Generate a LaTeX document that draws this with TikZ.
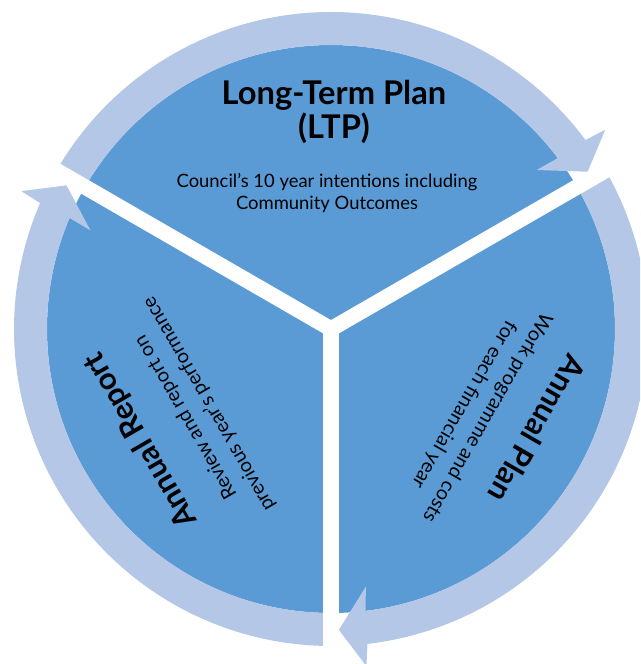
\documentclass[tikz,border=0pt]{standalone}
\usepackage{fontspec}
\setmainfont{Lato}
\definecolor{planblue}{HTML}{5B9BD5}
\definecolor{ringblue}{HTML}{B4C7E7}
\begin{document}
\begin{tikzpicture}[x=0.75pt,y=0.75pt,
  titletext/.style={font=\fontsize{24.5}{25}\selectfont\bfseries,align=center,inner sep=0pt},
  sidetitle/.style={font=\fontsize{23}{25}\selectfont\bfseries,align=center,inner sep=0pt},
  notetext/.style={font=\fontsize{13.8}{17}\selectfont,align=center,inner sep=0pt},
  sidenote/.style={font=\fontsize{14.8}{20}\selectfont,align=center,inner sep=0pt},
  gapline/.style={white,line width=11.6pt}]
\useasboundingbox (-331,-335) rectangle (309,329);
\clip (-331,-335) rectangle (309,329);
\coordinate (C) at (0,0);
\fill[planblue] (C) circle[radius=284];
\fill[ringblue] (150:317) arc[start angle=150,end angle=36.6,radius=317] -- (36:339) -- (31.5:301) -- (37.7:260) -- (37:284) arc[start angle=37,end angle=150,radius=284] -- cycle;
\fill[ringblue] (30:317) arc[start angle=30,end angle=-83.4,radius=317] -- (-84:339) -- (-88.5:301) -- (-82.3:260) -- (-83:284) arc[start angle=-83,end angle=30,radius=284] -- cycle;
\fill[ringblue] (270:317) arc[start angle=270,end angle=156.6,radius=317] -- (156:339) -- (151.5:301) -- (157.7:260) -- (157:284) arc[start angle=157,end angle=270,radius=284] -- cycle;
\draw[gapline] (C) -- (30:345);
\draw[gapline] (C) -- (150:345);
\draw[gapline] (C) -- (-90:345);

\node[titletext] (ltp) at (3,217) {Long-Term Plan\\(LTP)};
\node[notetext] (ltpnote) at (-4,136) {Council’s 10 year intentions including\\Community Outcomes};
\node[sidetitle,rotate=-120] (plan) at (206,-100) {Annual Plan};
\node[sidenote,rotate=-120] (plannote) at (144.5,-82) {Work programme and costs\\for each financial year};
\node[sidetitle,rotate=120] (report) at (-190,-111) {Annual Report};
\node[sidenote,rotate=120] (reportnote) at (-133.5,-81.5) {Review and report on\\previous year’s performance};
\end{tikzpicture}
\end{document}
